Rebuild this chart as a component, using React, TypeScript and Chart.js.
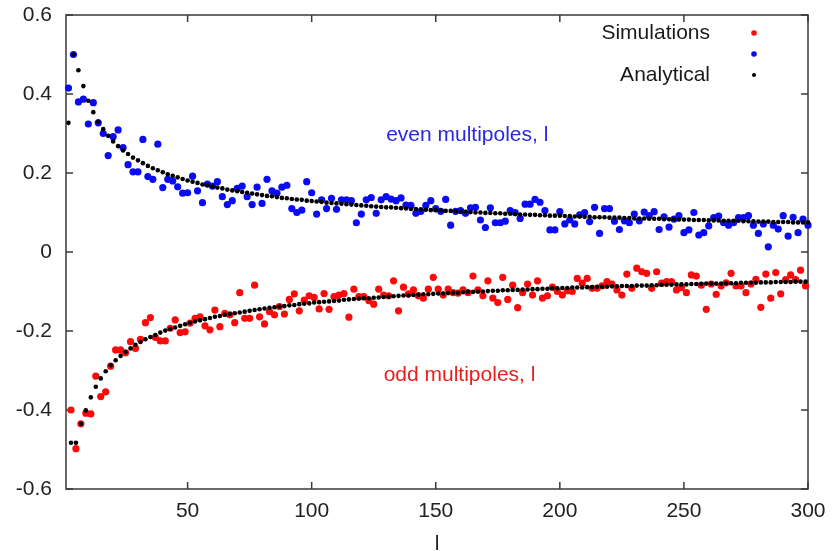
import React, { useEffect, useRef } from "react";
import { Chart, registerables } from "chart.js";

Chart.register(...registerables);

// ---- Axis ticks ----
const X_TICKS = [50, 100, 150, 200, 250, 300];
const Y_TICKS = [-0.6, -0.4, -0.2, 0, 0.2, 0.4, 0.6];

// ---- Multipole indices: even series start at l=2, odd at l=3, step 2 ----
const EVEN_START = 2;
const ODD_START = 3;
const L_STEP = 2;

// Simulations, even multipoles (blue), l = 2, 4, ..., 300
const simEven = [
  0.415, 0.5, 0.38, 0.387, 0.324, 0.378, 0.327, 0.3, 0.244, 0.292,
  0.309, 0.264, 0.221, 0.203, 0.203, 0.285, 0.191, 0.184, 0.273, 0.163,
  0.184, 0.18, 0.165, 0.149, 0.15, 0.192, 0.155, 0.125, 0.172, 0.167,
  0.178, 0.14, 0.12, 0.13, 0.161, 0.167, 0.14, 0.12, 0.164, 0.123,
  0.184, 0.155, 0.149, 0.164, 0.169, 0.11, 0.1, 0.106, 0.178, 0.15,
  0.096, 0.132, 0.11, 0.136, 0.108, 0.132, 0.132, 0.13, 0.074, 0.096,
  0.132, 0.138, 0.098, 0.132, 0.14, 0.134, 0.13, 0.137, 0.119, 0.118,
  0.098, 0.103, 0.118, 0.13, 0.11, 0.103, 0.133, 0.068, 0.103, 0.105,
  0.098, 0.112, 0.113, 0.081, 0.062, 0.112, 0.074, 0.074, 0.078, 0.105,
  0.1, 0.085, 0.121, 0.121, 0.133, 0.126, 0.105, 0.056, 0.056, 0.102,
  0.071, 0.081, 0.071, 0.094, 0.1, 0.077, 0.113, 0.047, 0.11, 0.11,
  0.078, 0.057, 0.079, 0.074, 0.096, 0.079, 0.101, 0.092, 0.102, 0.057,
  0.089, 0.063, 0.083, 0.092, 0.049, 0.056, 0.1, 0.043, 0.049, 0.066,
  0.087, 0.091, 0.074, 0.068, 0.074, 0.087, 0.087, 0.092, 0.068, 0.047,
  0.071, 0.013, 0.068, 0.058, 0.092, 0.04, 0.088, 0.049, 0.083, 0.068,
];

// Simulations, odd multipoles (red), l = 3, 5, ..., 299
const simOdd = [
  -0.4, -0.498, -0.435, -0.408, -0.41, -0.314, -0.366, -0.354, -0.289, -0.248,
  -0.248, -0.255, -0.227, -0.244, -0.221, -0.179, -0.166, -0.216, -0.225, -0.225,
  -0.193, -0.172, -0.204, -0.202, -0.18, -0.168, -0.164, -0.187, -0.197, -0.147,
  -0.189, -0.155, -0.159, -0.179, -0.103, -0.168, -0.168, -0.084, -0.164, -0.182,
  -0.151, -0.159, -0.138, -0.157, -0.12, -0.106, -0.149, -0.122, -0.111, -0.115,
  -0.144, -0.105, -0.145, -0.113, -0.109, -0.105, -0.165, -0.094, -0.113, -0.113,
  -0.123, -0.132, -0.094, -0.109, -0.111, -0.073, -0.149, -0.089, -0.106, -0.096,
  -0.111, -0.117, -0.094, -0.064, -0.094, -0.109, -0.094, -0.103, -0.104, -0.096,
  -0.103, -0.061, -0.096, -0.111, -0.073, -0.117, -0.128, -0.064, -0.12, -0.084,
  -0.141, -0.103, -0.081, -0.109, -0.073, -0.117, -0.111, -0.089, -0.1, -0.109,
  -0.098, -0.1, -0.067, -0.079, -0.067, -0.092, -0.092, -0.086, -0.075, -0.081,
  -0.096, -0.109, -0.056, -0.092, -0.041, -0.05, -0.054, -0.092, -0.05, -0.079,
  -0.075, -0.075, -0.096, -0.09, -0.103, -0.058, -0.061, -0.084, -0.145, -0.081,
  -0.107, -0.086, -0.078, -0.054, -0.086, -0.086, -0.103, -0.081, -0.069, -0.14,
  -0.056, -0.117, -0.052, -0.106, -0.07, -0.058, -0.07, -0.046, -0.086,
];

// Analytical, even multipoles, l = 2, 4, ..., 300
const anaEven = [
  0.327, 0.5, 0.46, 0.42, 0.383, 0.354, 0.33, 0.311, 0.294, 0.28,
  0.268, 0.257, 0.248, 0.239, 0.232, 0.225, 0.218, 0.212, 0.207, 0.202,
  0.197, 0.193, 0.189, 0.185, 0.181, 0.178, 0.175, 0.171, 0.169, 0.166,
  0.163, 0.161, 0.158, 0.156, 0.154, 0.152, 0.15, 0.148, 0.146, 0.144,
  0.142, 0.141, 0.139, 0.137, 0.136, 0.134, 0.133, 0.132, 0.13, 0.129,
  0.128, 0.127, 0.125, 0.124, 0.123, 0.122, 0.121, 0.12, 0.119, 0.118,
  0.117, 0.116, 0.115, 0.114, 0.113, 0.113, 0.112, 0.111, 0.11, 0.109,
  0.109, 0.108, 0.107, 0.106, 0.106, 0.105, 0.104, 0.104, 0.103, 0.102,
  0.102, 0.101, 0.1, 0.1, 0.099, 0.099, 0.098, 0.098, 0.097, 0.097,
  0.096, 0.095, 0.095, 0.094, 0.094, 0.093, 0.093, 0.092, 0.092, 0.092,
  0.091, 0.091, 0.09, 0.09, 0.089, 0.089, 0.088, 0.088, 0.088, 0.087,
  0.087, 0.087, 0.086, 0.086, 0.085, 0.085, 0.085, 0.084, 0.084, 0.084,
  0.083, 0.083, 0.083, 0.082, 0.082, 0.082, 0.081, 0.081, 0.081, 0.08,
  0.08, 0.08, 0.079, 0.079, 0.079, 0.079, 0.078, 0.078, 0.078, 0.077,
  0.077, 0.077, 0.076, 0.076, 0.076, 0.076, 0.075, 0.075, 0.075, 0.075,
];

// Analytical, odd multipoles, l = 3, 5, ..., 299
const anaOdd = [
  -0.483, -0.483, -0.435, -0.401, -0.368, -0.341, -0.32, -0.302, -0.287, -0.274,
  -0.263, -0.253, -0.244, -0.235, -0.228, -0.221, -0.215, -0.21, -0.204, -0.199,
  -0.195, -0.191, -0.187, -0.183, -0.179, -0.176, -0.173, -0.17, -0.167, -0.164,
  -0.162, -0.159, -0.157, -0.155, -0.153, -0.151, -0.149, -0.147, -0.145, -0.143,
  -0.141, -0.14, -0.138, -0.137, -0.135, -0.134, -0.132, -0.131, -0.13, -0.128,
  -0.127, -0.126, -0.125, -0.124, -0.123, -0.121, -0.12, -0.119, -0.118, -0.117,
  -0.117, -0.116, -0.115, -0.114, -0.113, -0.112, -0.111, -0.11, -0.11, -0.109,
  -0.108, -0.107, -0.107, -0.106, -0.105, -0.105, -0.104, -0.103, -0.103, -0.102,
  -0.101, -0.101, -0.1, -0.1, -0.099, -0.098, -0.098, -0.097, -0.097, -0.096,
  -0.096, -0.095, -0.095, -0.094, -0.094, -0.093, -0.093, -0.092, -0.092, -0.091,
  -0.091, -0.09, -0.09, -0.09, -0.089, -0.089, -0.088, -0.088, -0.088, -0.087,
  -0.087, -0.086, -0.086, -0.086, -0.085, -0.085, -0.085, -0.084, -0.084, -0.083,
  -0.083, -0.083, -0.082, -0.082, -0.082, -0.081, -0.081, -0.081, -0.08, -0.08,
  -0.08, -0.08, -0.079, -0.079, -0.079, -0.078, -0.078, -0.078, -0.078, -0.077,
  -0.077, -0.077, -0.076, -0.076, -0.076, -0.076, -0.075, -0.075, -0.075,
];

const FONT = '"Liberation Sans", Arial, Helvetica, sans-serif';
const RED = "rgb(250,10,10)";
const BLUE = "rgb(10,10,245)";
const BLACK = "#000";

const toPoints = (vals: number[], start: number) =>
  vals.map((y, i) => ({ x: start + L_STEP * i, y }));

const framePlugin = {
  id: "gnuFrame",
  beforeDatasetsDraw(chart: any) {
    const { ctx, chartArea: a, scales } = chart;
    const xs = scales.x;
    const ys = scales.y;
    ctx.save();
    ctx.strokeStyle = "#3a3a3a";
    ctx.lineWidth = 1.5;
    ctx.strokeRect(a.left, a.top, a.right - a.left, a.bottom - a.top);
    const tl = 7;
    ctx.beginPath();
    for (const v of X_TICKS) {
      const px = xs.getPixelForValue(v);
      ctx.moveTo(px, a.bottom);
      ctx.lineTo(px, a.bottom - tl);
      ctx.moveTo(px, a.top);
      ctx.lineTo(px, a.top + tl);
    }
    for (const v of Y_TICKS) {
      const py = ys.getPixelForValue(v);
      ctx.moveTo(a.left, py);
      ctx.lineTo(a.left + tl, py);
      ctx.moveTo(a.right, py);
      ctx.lineTo(a.right - tl, py);
    }
    ctx.stroke();
    ctx.restore();
  },
  afterDraw(chart: any) {
    const { ctx, chartArea: a, scales } = chart;
    const xs = scales.x;
    const ys = scales.y;
    ctx.save();
    ctx.font = `21px ${FONT}`;
    // legend
    ctx.fillStyle = "#1a1a1a";
    ctx.textAlign = "right";
    ctx.textBaseline = "middle";
    const tx = a.right - 98;
    const dx = a.right - 54;
    ctx.fillText("Simulations", tx, a.top + 18);
    ctx.fillText("Analytical", tx, a.top + 60);
    const dot = (x: number, y: number, r: number, c: string) => {
      ctx.beginPath();
      ctx.arc(x, y, r, 0, Math.PI * 2);
      ctx.fillStyle = c;
      ctx.fill();
    };
    dot(dx, a.top + 18, 2.8, RED);
    dot(dx, a.top + 39, 2.8, BLUE);
    dot(dx, a.top + 60, 2.0, BLACK);
    // annotations
    ctx.textAlign = "left";
    ctx.fillStyle = "rgb(40,40,225)";
    ctx.fillText("even multipoles, l", xs.getPixelForValue(130), ys.getPixelForValue(0.296));
    ctx.fillStyle = "rgb(235,30,30)";
    ctx.fillText("odd multipoles, l", xs.getPixelForValue(129), ys.getPixelForValue(-0.311));
    // x-axis title
    ctx.fillStyle = "#222";
    ctx.textAlign = "center";
    ctx.textBaseline = "alphabetic";
    ctx.fillText("l", (a.left + a.right) / 2, 550);
    ctx.restore();
  },
};

const zeroPad = (s: any) => {
  s.paddingTop = 0;
  s.paddingBottom = 0;
  s.paddingLeft = 0;
  s.paddingRight = 0;
};

export default function App() {
  const canvasRef = useRef<HTMLCanvasElement | null>(null);

  useEffect(() => {
    document.body.style.margin = "0";
    const canvas = canvasRef.current;
    if (!canvas) return;
    Chart.defaults.font.family = FONT;

    const chart = new Chart(canvas, {
      type: "scatter",
      data: {
        datasets: [
          {
            label: "Analytical even",
            data: toPoints(anaEven, EVEN_START),
            backgroundColor: BLACK,
            pointRadius: 2.3,
            pointBorderWidth: 0,
            showLine: false,
            clip: false,
          },
          {
            label: "Analytical odd",
            data: toPoints(anaOdd, ODD_START),
            backgroundColor: BLACK,
            pointRadius: 2.3,
            pointBorderWidth: 0,
            showLine: false,
            clip: false,
          },
          {
            label: "Simulations even",
            data: toPoints(simEven, EVEN_START),
            backgroundColor: BLUE,
            pointRadius: 3.6,
            pointBorderWidth: 0,
            showLine: false,
            clip: false,
          },
          {
            label: "Simulations odd",
            data: toPoints(simOdd, ODD_START),
            backgroundColor: RED,
            pointRadius: 3.6,
            pointBorderWidth: 0,
            showLine: false,
            clip: false,
          },
        ] as any,
      },
      options: {
        animation: false,
        responsive: true,
        maintainAspectRatio: false,
        events: [],
        layout: { autoPadding: false, padding: { top: 15, right: 32, left: 0, bottom: 0 } },
        plugins: {
          legend: { display: false },
          tooltip: { enabled: false },
        },
        scales: {
          x: {
            type: "linear",
            min: 1,
            max: 300,
            grid: { display: false, drawTicks: false, tickLength: 0 },
            border: { display: false },
            afterFit: (s: any) => {
              s.height = 62;
              zeroPad(s);
            },
            afterBuildTicks: (s: any) => {
              s.ticks = X_TICKS.map((v) => ({ value: v }));
            },
            ticks: {
              color: "#222",
              font: { size: 21, family: FONT },
              padding: 10,
              maxRotation: 0,
              callback: (v: any) => String(v),
            },
          },
          y: {
            type: "linear",
            min: -0.6,
            max: 0.6,
            grid: { display: false, drawTicks: false, tickLength: 0 },
            border: { display: false },
            afterFit: (s: any) => {
              s.width = 66;
              zeroPad(s);
            },
            afterBuildTicks: (s: any) => {
              s.ticks = Y_TICKS.map((v) => ({ value: v }));
            },
            ticks: {
              color: "#222",
              font: { size: 21, family: FONT },
              padding: 14,
              callback: (v: any) => String(Math.round(Number(v) * 10) / 10),
            },
          },
        },
      } as any,
      plugins: [framePlugin],
    });

    return () => chart.destroy();
  }, []);

  return (
    <div style={{ position: "relative", width: 840, height: 551, background: "#fff" }}>
      <canvas ref={canvasRef} />
    </div>
  );
}
